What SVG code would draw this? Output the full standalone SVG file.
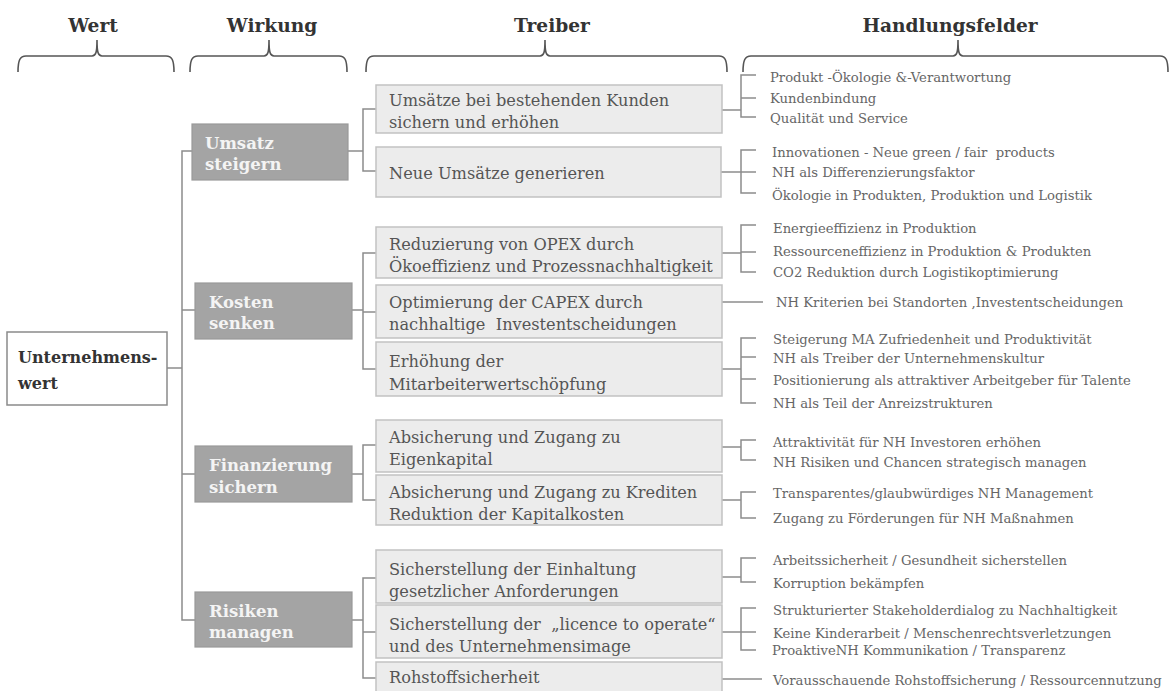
<svg xmlns="http://www.w3.org/2000/svg" width="1171" height="691" viewBox="0 0 1171 691">
  <style>
    text { white-space: pre; }
    .hdr { font-family: "DejaVu Serif", "Liberation Serif", serif; font-weight: bold; font-size: 18.6px; fill: #333; text-anchor: middle; }
    .brace { fill: none; stroke: #555; stroke-width: 1.6; }
    .root rect { fill: #fff; stroke: #8a8a8a; stroke-width: 1.5; }
    .root text { font-family: "DejaVu Serif", "Liberation Serif", serif; font-weight: bold; font-size: 16px; fill: #333; }
    .wk rect { fill: #a4a4a4; stroke: #9a9a9a; stroke-width: 1.2; }
    .wk text { font-family: "DejaVu Serif", "Liberation Serif", serif; font-weight: bold; font-size: 16.5px; fill: #f4f4f4; }
    .tr rect { fill: #ececec; stroke: #c2c2c2; stroke-width: 1.5; }
    .tr text { font-family: "DejaVu Serif", "Liberation Serif", serif; font-size: 16.2px; fill: #555; }
    .hf text { font-family: "DejaVu Serif", "Liberation Serif", serif; font-size: 13.2px; fill: #666; }
    .conn path { fill: none; stroke: #8c8c8c; stroke-width: 1.5; }
  </style>

  <!-- column headers with braces -->
  <g id="headers">
    <text class="hdr" x="93" y="32">Wert</text>
    <text class="hdr" x="272" y="32">Wirkung</text>
    <text class="hdr" x="552" y="32">Treiber</text>
    <text class="hdr" x="950" y="32">Handlungsfelder</text>
    <path class="brace" d="M18,72 C18,60 20,56 26,56 L92,56 C96,56 97,52 97,40 C97,52 98,56 102,56 L166,56 C172,56 174,60 174,72"/>
    <path class="brace" d="M190,72 C190,60 192,56 198,56 L264,56 C268,56 269,52 269,40 C269,52 270,56 274,56 L339,56 C345,56 347,60 347,72"/>
    <path class="brace" d="M366,72 C366,60 368,56 374,56 L540,56 C544,56 545,52 545,40 C545,52 546,56 550,56 L719,56 C725,56 727,60 727,72"/>
    <path class="brace" d="M743,72 C743,60 745,56 751,56 L953,56 C957,56 958,52 958,40 C958,52 959,56 963,56 L1160,56 C1166,56 1168,60 1168,72"/>
  </g>

  <!-- connectors -->
  <g id="connectors" class="conn">
    <!-- root to Wirkung -->
    <path d="M167,368 H182"/>
    <path d="M192,151 H182 V620 H195"/>
    <path d="M182,310 H195"/>
    <path d="M182,474 H195"/>
    <!-- Wirkung to Treiber -->
    <path d="M348,151 H363"/>
    <path d="M376,109 H363 V171 H376"/>
    <path d="M352,310 H363"/>
    <path d="M376,253 H363 V369 H376"/>
    <path d="M363,312 H376"/>
    <path d="M352,474 H363"/>
    <path d="M376,445 H363 V500 H376"/>
    <path d="M352,620 H363"/>
    <path d="M376,578 H363 V678 H376"/>
    <path d="M363,632 H376"/>
    <!-- Treiber to Handlungsfelder -->
    <path d="M722,110 H741"/>
    <path d="M756,75 H741 V117 H756"/>
    <path d="M741,98 H756"/>
    <path d="M721,172 H741"/>
    <path d="M756,150 H741 V193 H756"/>
    <path d="M741,172 H756"/>
    <path d="M722,253 H741"/>
    <path d="M756,225 H741 V272 H756"/>
    <path d="M741,252 H756"/>
    <path d="M722,302 H763"/>
    <path d="M722,369 H741"/>
    <path d="M756,338 H741 V403 H756"/>
    <path d="M741,357 H756"/>
    <path d="M741,379 H756"/>
    <path d="M722,447 H741"/>
    <path d="M756,440 H741 V460 H756"/>
    <path d="M722,500 H741"/>
    <path d="M756,492 H741 V518 H756"/>
    <path d="M722,577 H741"/>
    <path d="M756,558 H741 V582 H756"/>
    <path d="M722,632 H741"/>
    <path d="M756,608 H741 V650 H756"/>
    <path d="M741,632 H756"/>
    <path d="M722,679 H762"/>
  </g>

  <!-- Wert -->
  <g id="unternehmenswert" class="root">
    <rect x="7" y="332" width="160" height="73"/>
    <text x="18" y="363">Unternehmens-</text>
    <text x="18" y="389">wert</text>
  </g>

  <!-- Wirkung -->
  <g id="umsatz-steigern" class="wk">
    <rect x="192" y="124" width="156" height="56"/>
    <text x="205" y="149">Umsatz</text>
    <text x="205" y="170">steigern</text>
  </g>
  <g id="kosten-senken" class="wk">
    <rect x="195" y="283" width="157" height="56"/>
    <text x="209" y="308">Kosten</text>
    <text x="209" y="329">senken</text>
  </g>
  <g id="finanzierung-sichern" class="wk">
    <rect x="195" y="446" width="157" height="56"/>
    <text x="209" y="471">Finanzierung</text>
    <text x="209" y="493">sichern</text>
  </g>
  <g id="risiken-managen" class="wk">
    <rect x="195" y="592" width="157" height="55"/>
    <text x="209" y="617">Risiken</text>
    <text x="209" y="638">managen</text>
  </g>

  <!-- Treiber -->
  <g id="t-bestandskunden" class="tr">
    <rect x="376" y="85" width="346" height="48"/>
    <text x="389" y="106">Umsätze bei bestehenden Kunden</text>
    <text x="389" y="128">sichern und erhöhen</text>
  </g>
  <g id="t-neue-umsaetze" class="tr">
    <rect x="376" y="147" width="345" height="50"/>
    <text x="389" y="179">Neue Umsätze generieren</text>
  </g>
  <g id="t-opex" class="tr">
    <rect x="376" y="227" width="346" height="51"/>
    <text x="389" y="250">Reduzierung von OPEX durch</text>
    <text x="389" y="272">Ökoeffizienz und Prozessnachhaltigkeit</text>
  </g>
  <g id="t-capex" class="tr">
    <rect x="376" y="285" width="346" height="53"/>
    <text x="389" y="308">Optimierung der CAPEX durch</text>
    <text x="389" y="330">nachhaltige  Investentscheidungen</text>
  </g>
  <g id="t-mitarbeiter" class="tr">
    <rect x="376" y="342" width="346" height="54"/>
    <text x="389" y="367">Erhöhung der</text>
    <text x="389" y="390">Mitarbeiterwertschöpfung</text>
  </g>
  <g id="t-eigenkapital" class="tr">
    <rect x="376" y="420" width="346" height="52"/>
    <text x="389" y="443">Absicherung und Zugang zu</text>
    <text x="389" y="465">Eigenkapital</text>
  </g>
  <g id="t-kredite" class="tr">
    <rect x="376" y="475" width="346" height="50"/>
    <text x="389" y="498">Absicherung und Zugang zu Krediten</text>
    <text x="389" y="520">Reduktion der Kapitalkosten</text>
  </g>
  <g id="t-gesetz" class="tr">
    <rect x="376" y="550" width="346" height="53"/>
    <text x="389" y="575">Sicherstellung der Einhaltung</text>
    <text x="389" y="597">gesetzlicher Anforderungen</text>
  </g>
  <g id="t-licence" class="tr">
    <rect x="376" y="605" width="346" height="53"/>
    <text x="389" y="630">Sicherstellung der  „licence to operate“</text>
    <text x="389" y="652">und des Unternehmensimage</text>
  </g>
  <g id="t-rohstoff" class="tr">
    <rect x="376" y="662" width="346" height="40"/>
    <text x="389" y="683">Rohstoffsicherheit</text>
  </g>

  <!-- Handlungsfelder -->
  <g id="h-bestandskunden" class="hf">
    <text x="770" y="82">Produkt -Ökologie &amp;-Verantwortung</text>
    <text x="770" y="103">Kundenbindung</text>
    <text x="770" y="123">Qualität und Service</text>
  </g>
  <g id="h-neue-umsaetze" class="hf">
    <text x="772" y="157">Innovationen - Neue green / fair  products</text>
    <text x="772" y="177">NH als Differenzierungsfaktor</text>
    <text x="772" y="200">Ökologie in Produkten, Produktion und Logistik</text>
  </g>
  <g id="h-opex" class="hf">
    <text x="773" y="233">Energieeffizienz in Produktion</text>
    <text x="773" y="256">Ressourceneffizienz in Produktion &amp; Produkten</text>
    <text x="773" y="277">CO2 Reduktion durch Logistikoptimierung</text>
  </g>
  <g id="h-capex" class="hf">
    <text x="776" y="307">NH Kriterien bei Standorten ,Investentscheidungen</text>
  </g>
  <g id="h-mitarbeiter" class="hf">
    <text x="773" y="344">Steigerung MA Zufriedenheit und Produktivität</text>
    <text x="773" y="363">NH als Treiber der Unternehmenskultur</text>
    <text x="773" y="385">Positionierung als attraktiver Arbeitgeber für Talente</text>
    <text x="773" y="408">NH als Teil der Anreizstrukturen</text>
  </g>
  <g id="h-eigenkapital" class="hf">
    <text x="773" y="447">Attraktivität für NH Investoren erhöhen</text>
    <text x="773" y="467">NH Risiken und Chancen strategisch managen</text>
  </g>
  <g id="h-kredite" class="hf">
    <text x="773" y="498">Transparentes/glaubwürdiges NH Management</text>
    <text x="773" y="523">Zugang zu Förderungen für NH Maßnahmen</text>
  </g>
  <g id="h-gesetz" class="hf">
    <text x="773" y="565">Arbeitssicherheit / Gesundheit sicherstellen</text>
    <text x="773" y="588">Korruption bekämpfen</text>
  </g>
  <g id="h-licence" class="hf">
    <text x="773" y="615">Strukturierter Stakeholderdialog zu Nachhaltigkeit</text>
    <text x="773" y="638">Keine Kinderarbeit / Menschenrechtsverletzungen</text>
    <text x="772" y="655">ProaktiveNH Kommunikation / Transparenz</text>
  </g>
  <g id="h-rohstoff" class="hf">
    <text x="773" y="685">Vorausschauende Rohstoffsicherung / Ressourcennutzung</text>
  </g>
</svg>
